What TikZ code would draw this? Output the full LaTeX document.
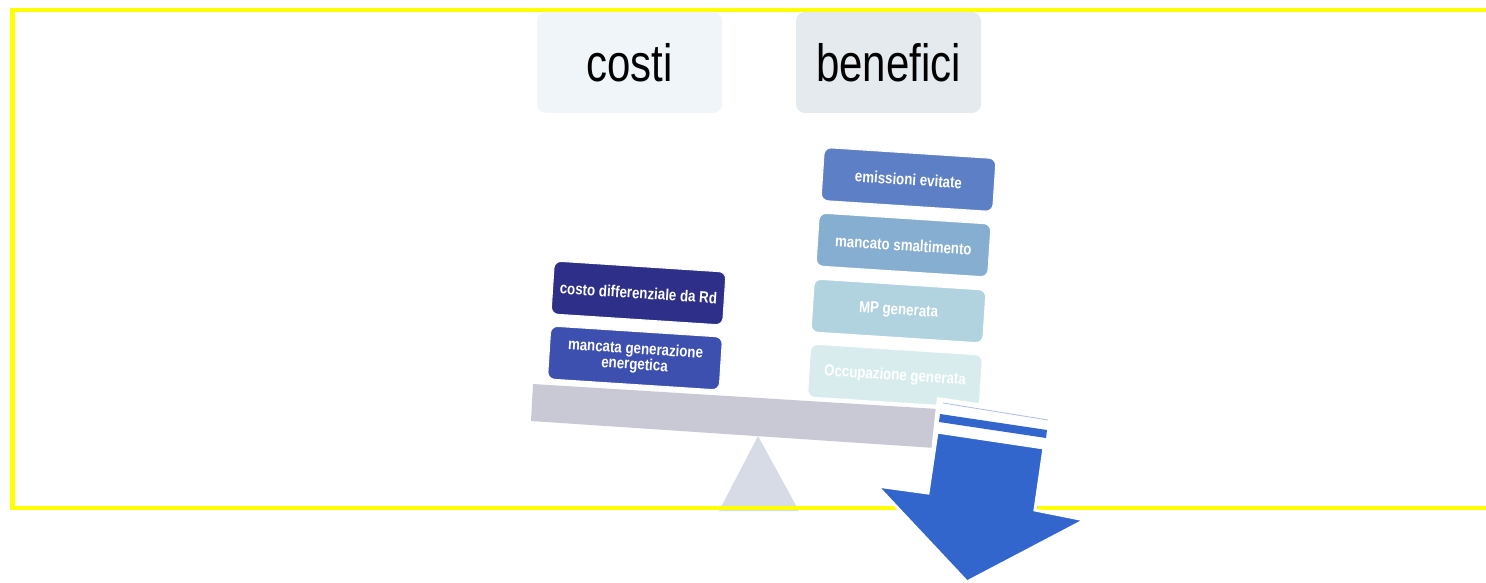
\documentclass[tikz,border=0pt]{standalone}
\usepackage{graphicx}
\usepackage{fontspec}
\setmainfont{Liberation Sans}
\definecolor{costibg}{HTML}{EFF5F8}
\definecolor{benefbg}{HTML}{E5EAEE}
\definecolor{cA}{HTML}{2E2F88}
\definecolor{cB}{HTML}{3D50B0}
\definecolor{bA}{HTML}{5D7FC5}
\definecolor{bB}{HTML}{86AED0}
\definecolor{bC}{HTML}{B1D3DF}
\definecolor{bD}{HTML}{D8ECEE}
\definecolor{beamc}{HTML}{C9C9D6}
\definecolor{fulc}{HTML}{D6DBE6}
\definecolor{arrowc}{HTML}{3366CC}
\definecolor{thinl}{HTML}{A8BDE8}
\definecolor{yel}{HTML}{FFFF00}
\newcommand\vstr[1]{\scalebox{1}[1.2]{#1}}
\newcommand\hstr[1]{\scalebox{1}[1.25]{#1}}
\begin{document}
\begin{tikzpicture}[x=1pt,y=-1pt,
  header/.style={rounded corners=9pt, minimum width=185pt, minimum height=101pt, inner sep=0pt,
    font=\fontsize{42}{50}\selectfont, text=black},
  item/.style={rounded corners=7pt, minimum width=172pt, minimum height=53pt, inner sep=2pt,
    rotate=-3.7, text=white, font=\bfseries\fontsize{13.3}{16}\selectfont, align=center,
    draw=white, line width=1pt},
  frame/.style={draw=yel, line width=4.5pt},
  beam/.style={fill=beamc},
  fulcrum/.style={fill=fulc},
  bigarrow/.style={fill=arrowc, draw=white, line width=3pt, line join=miter}
]
\useasboundingbox (0,0) rectangle (1486,583);
\fill[white] (0,0) rectangle (1486,583);

% fulcrum
\fill[fulcrum] (758,436) -- (799,511) -- (719,511) -- cycle;

% yellow frame
\draw[frame] (1500,10) -- (12.5,10) -- (12.5,508) -- (1500,508);

% header boxes
\node[header, fill=costibg] (costi) at (629.5,62.5) {\hstr{costi}};
\node[header, fill=benefbg] (benefici) at (888.5,62.5) {\hstr{benefici}};

% beam
\fill[beam] (533,384) -- (938,409) -- (935,448) -- (531,421) -- cycle;

% cost items
\node[item, fill=cA] (costo) at (638.5,293) {\vstr{costo differenziale da Rd}};
\node[item, fill=cB] (mancgen) at (635,358)
  {\vstr{\begin{tabular}{@{}c@{}}mancata generazione\\[-3pt]energetica\end{tabular}}};

% benefit items
\node[item, fill=bA] (emiss) at (908.5,179.5) {\vstr{emissioni evitate}};
\node[item, fill=bB] (smalt) at (903.5,245) {\vstr{mancato smaltimento}};
\node[item, fill=bC] (mp) at (898.5,311) {\vstr{MP generata}};
\node[item, fill=bD] (occ) at (895,376) {\vstr{Occupazione generata}};

% white backing behind the arrow
\fill[white] (937,397) -- (1052,414) -- (1046,452) -- (931,452) -- cycle;
\draw[thinl, line width=0.8pt] (943,403) -- (1048,420);
\fill[arrowc] (940,414) -- (1047,430) -- (1046,438) -- (939,422) -- cycle;

% big arrow
\draw[bigarrow] (937,432) -- (1044,448) -- (1035,510) -- (1085,520) -- (967,582)
  -- (877,486) -- (928,493) -- cycle;
\end{tikzpicture}
\end{document}
